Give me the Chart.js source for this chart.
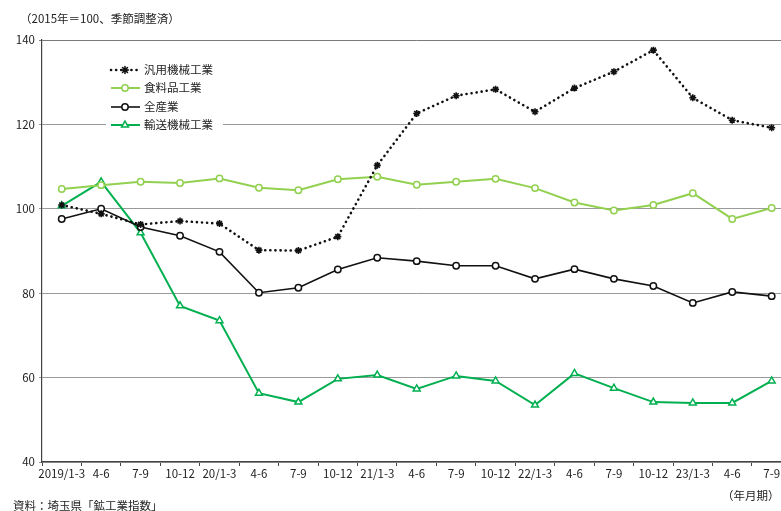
<!DOCTYPE html>
<html>
<head>
<meta charset="utf-8">
<script src="https://cdn.jsdelivr.net/npm/chart.js@4"></script>
<style>
  html, body { margin: 0; padding: 0; background: #fff; overflow: hidden; }
  #wrap { position: relative; width: 781px; height: 511px; overflow: hidden; }
  #wrap canvas { position: absolute; left: 0; top: 0; }
  .note { position: absolute; font-family: "Noto Sans CJK JP", sans-serif; font-size: 11.5px; color: #222; white-space: nowrap; }
</style>
</head>
<body>
<div id="wrap">
  <canvas id="chart" width="797" height="511" style="width:797px;height:511px"></canvas>
  <div class="note" style="left:20px; top:10px;">（2015年＝100、季節調整済）</div>
  <div class="note" style="left:722px; top:487px;">（年月期）</div>
  <div class="note" style="left:13px; top:497px;">資料：埼玉県「鉱工業指数」</div>
</div>
<script>
// ----------------------
// DATA
// ----------------------
const quarters = [
  "2019/1-3", "4-6", "7-9", "10-12",
  "20/1-3", "4-6", "7-9", "10-12",
  "21/1-3", "4-6", "7-9", "10-12",
  "22/1-3", "4-6", "7-9", "10-12",
  "23/1-3", "4-6", "7-9"
];
const generalMachinery = [100.9, 98.8, 96.3, 97.1, 96.5, 90.2, 90.1, 93.4, 110.3, 122.6, 126.8, 128.3, 123.0, 128.6, 132.5, 137.6, 126.3, 121.0, 119.2];
const foodProducts = [104.7, 105.6, 106.4, 106.1, 107.2, 105.0, 104.4, 107.0, 107.6, 105.7, 106.4, 107.1, 104.9, 101.5, 99.6, 100.9, 103.7, 97.6, 100.2];
const allIndustries = [97.6, 100.0, 95.7, 93.6, 89.8, 80.1, 81.3, 85.6, 88.4, 87.6, 86.5, 86.5, 83.4, 85.7, 83.4, 81.7, 77.7, 80.3, 79.3];
const transportMachinery = [100.7, 106.4, 94.3, 77.0, 73.5, 56.3, 54.2, 59.7, 60.6, 57.3, 60.4, 59.2, 53.5, 61.0, 57.5, 54.2, 54.0, 54.0, 59.2];
const yTicks = [40, 60, 80, 100, 120, 140];

const FONT = "'Noto Sans CJK JP', sans-serif";
const LIGHT_GREEN = "#92D050";
const GREEN = "#00B050";

// ----------------------
// LEGEND (drawn inside the plot)
// ----------------------
const legendPlugin = {
  id: "boxLegend",
  afterDatasetsDraw(chart) {
    const ctx = chart.ctx;
    ctx.save();
    ctx.fillStyle = "#fff";
    ctx.fillRect(106, 61, 117, 72);
    const rows = [70, 88, 107, 125];
    chart.data.datasets.forEach((ds, i) => {
      const y = rows[i];
      ctx.strokeStyle = ds.borderColor;
      ctx.lineWidth = ds.borderWidth;
      ctx.lineCap = ds.borderDash ? "round" : "butt";
      ctx.setLineDash(ds.borderDash || []);
      ctx.beginPath();
      ctx.moveTo(111, y);
      ctx.lineTo(140, y);
      ctx.stroke();
      ctx.setLineDash([]);
      ctx.fillStyle = "#fff";
      ctx.strokeStyle = ds.borderColor;
      ctx.lineWidth = ds.pointBorderWidth || 1.5;
      Chart.helpers.drawPoint(ctx, {
        pointStyle: ds.pointStyle,
        radius: ds.pointRadius,
        borderWidth: ds.pointBorderWidth || 1.5
      }, 125, y);
      ctx.fillStyle = "#222";
      ctx.font = "11.5px " + FONT;
      ctx.textBaseline = "middle";
      ctx.fillText(ds.label, 144, y);
    });
    ctx.restore();
  }
};

function series(label, data, color, style, radius, extra) {
  return Object.assign({
    label,
    data,
    borderColor: color,
    borderWidth: 2,
    pointStyle: style,
    pointRadius: radius,
    pointBorderWidth: 1.5,
    pointBackgroundColor: "#fff",
    pointBorderColor: color,
    tension: 0
  }, extra || {});
}

// ----------------------
// CHART
// ----------------------
const chart = new Chart(document.getElementById("chart").getContext("2d"), {
  type: "line",
  data: {
    labels: quarters,
    datasets: [
      series("汎用機械工業", generalMachinery, "#111", "star", 3.5, { borderDash: [0.1, 5], borderWidth: 2.6, borderCapStyle: "round", pointBorderWidth: 1.6 }),
      series("食料品工業", foodProducts, LIGHT_GREEN, "circle", 3.2),
      series("全産業", allIndustries, "#111", "circle", 3.2, { borderWidth: 1.6 }),
      series("輸送機械工業", transportMachinery, GREEN, "triangle", 4)
    ]
  },
  options: {
    responsive: false,
    animation: false,
    layout: { padding: { top: 40, right: 0, left: 0, bottom: 0 } },
    plugins: {
      legend: { display: false },
      tooltip: { enabled: false }
    },
    scales: {
      x: {
        offset: true,
        grid: {
          offset: true,
          drawOnChartArea: false,
          drawTicks: true,
          tickLength: 4,
          color: "#444"
        },
        border: { color: "#444", width: 1.2 },
        ticks: {
          color: "#222",
          font: { family: FONT, size: 11.5 },
          maxRotation: 0,
          autoSkip: false,
          padding: 1
        },
        afterFit(scale) { scale.height = 49; }
      },
      y: {
        min: 40,
        max: 140,
        afterBuildTicks(scale) { scale.ticks = yTicks.map(v => ({ value: v })); },
        grid: {
          color: ctx => (ctx.tick && ctx.tick.value === 140 ? "#7a7a7a" : "#9a9a9a"),
          lineWidth: 1,
          tickLength: 3,
          drawTicks: true
        },
        border: { color: "#444", width: 1.2 },
        ticks: {
          color: "#222",
          font: { family: FONT, size: 11.5 },
          padding: 4
        },
        afterFit(scale) { scale.width = 42; }
      }
    }
  },
  plugins: [legendPlugin]
});
</script>
</body>
</html>
